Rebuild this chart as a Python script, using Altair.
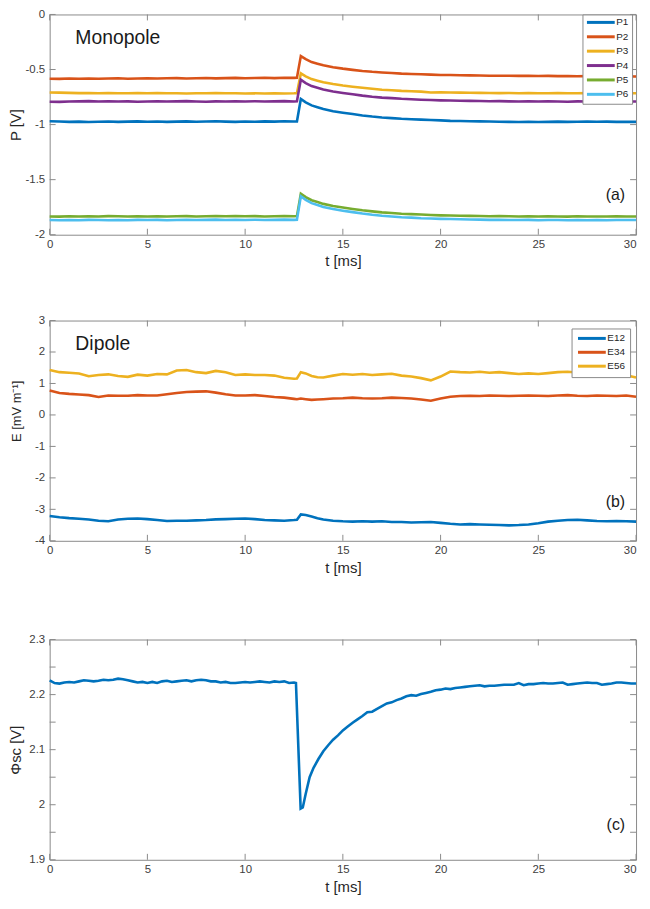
import altair as alt
import pandas as pd

# ---------------- data ----------------
T = [0, 0.5, 1, 1.5, 2, 2.5, 3, 3.5, 4, 4.5,
     5, 5.5, 6, 6.5, 7, 7.5, 8, 8.5, 9, 9.5,
     10, 10.5, 11, 11.5, 12, 12.5, 12.65, 12.85, 13.1, 13.4,
     13.7, 14, 14.5, 15, 15.5, 16, 16.5, 17, 17.5, 18,
     18.5, 19, 19.5, 20, 20.5, 21, 21.5, 22, 22.5, 23,
     23.5, 24, 24.5, 25, 25.5, 26, 26.5, 27, 27.5, 28,
     28.5, 29, 29.5, 30]

P1 = [-0.970, -0.972, -0.975, -0.973, -0.976, -0.974, -0.972, -0.975, -0.973, -0.971,
      -0.974, -0.972, -0.975, -0.973, -0.971, -0.974, -0.972, -0.970, -0.973, -0.975,
      -0.972, -0.974, -0.971, -0.973, -0.970, -0.972, -0.971, -0.767, -0.798, -0.826,
      -0.843, -0.859, -0.878, -0.892, -0.904, -0.917, -0.927, -0.935, -0.941, -0.947,
      -0.951, -0.955, -0.959, -0.962, -0.966, -0.968, -0.969, -0.971, -0.972, -0.974,
      -0.975, -0.976, -0.974, -0.976, -0.975, -0.973, -0.975, -0.974, -0.972, -0.974,
      -0.973, -0.975, -0.974, -0.975]
P2 = [-0.584, -0.585, -0.582, -0.584, -0.581, -0.583, -0.582, -0.580, -0.583, -0.581,
      -0.579, -0.582, -0.580, -0.578, -0.581, -0.579, -0.577, -0.580, -0.578, -0.576,
      -0.579, -0.577, -0.575, -0.578, -0.574, -0.576, -0.574, -0.378, -0.406, -0.432,
      -0.447, -0.462, -0.479, -0.492, -0.503, -0.513, -0.521, -0.527, -0.532, -0.537,
      -0.540, -0.543, -0.546, -0.549, -0.550, -0.552, -0.553, -0.555, -0.556, -0.557,
      -0.556, -0.558, -0.557, -0.559, -0.558, -0.560, -0.559, -0.561, -0.560, -0.562,
      -0.561, -0.563, -0.562, -0.563]
P3 = [-0.708, -0.710, -0.712, -0.714, -0.713, -0.715, -0.714, -0.716, -0.715, -0.713,
      -0.715, -0.714, -0.716, -0.715, -0.717, -0.715, -0.716, -0.714, -0.716, -0.715,
      -0.717, -0.716, -0.718, -0.716, -0.717, -0.716, -0.715, -0.535, -0.562, -0.587,
      -0.602, -0.616, -0.632, -0.645, -0.656, -0.666, -0.675, -0.683, -0.688, -0.694,
      -0.697, -0.701, -0.708, -0.706, -0.708, -0.710, -0.711, -0.712, -0.713, -0.714,
      -0.713, -0.715, -0.714, -0.716, -0.715, -0.714, -0.716, -0.715, -0.714, -0.716,
      -0.715, -0.716, -0.715, -0.716]
P4 = [-0.792, -0.794, -0.791, -0.789, -0.787, -0.790, -0.788, -0.791, -0.789, -0.792,
      -0.790, -0.788, -0.791, -0.789, -0.787, -0.790, -0.792, -0.789, -0.791, -0.788,
      -0.790, -0.788, -0.791, -0.789, -0.787, -0.790, -0.788, -0.593, -0.623, -0.650,
      -0.666, -0.682, -0.699, -0.713, -0.725, -0.737, -0.747, -0.755, -0.760, -0.766,
      -0.770, -0.774, -0.777, -0.780, -0.782, -0.784, -0.785, -0.786, -0.788, -0.787,
      -0.789, -0.790, -0.788, -0.791, -0.789, -0.790, -0.792, -0.789, -0.791, -0.790,
      -0.792, -0.790, -0.791, -0.790]
P5 = [-1.834, -1.836, -1.833, -1.835, -1.832, -1.834, -1.831, -1.833, -1.835, -1.832,
      -1.834, -1.832, -1.835, -1.833, -1.831, -1.834, -1.832, -1.830, -1.833, -1.831,
      -1.833, -1.831, -1.834, -1.832, -1.830, -1.832, -1.831, -1.627, -1.658, -1.687,
      -1.703, -1.720, -1.739, -1.753, -1.766, -1.778, -1.788, -1.797, -1.803, -1.809,
      -1.813, -1.817, -1.821, -1.824, -1.826, -1.828, -1.829, -1.830, -1.832, -1.831,
      -1.833, -1.834, -1.832, -1.835, -1.833, -1.834, -1.836, -1.833, -1.835, -1.834,
      -1.835, -1.833, -1.834, -1.834]
P6 = [-1.867, -1.869, -1.866, -1.868, -1.865, -1.867, -1.869, -1.866, -1.868, -1.865,
      -1.867, -1.865, -1.868, -1.866, -1.864, -1.867, -1.865, -1.863, -1.866, -1.864,
      -1.866, -1.864, -1.867, -1.865, -1.863, -1.865, -1.864, -1.650, -1.683, -1.713,
      -1.730, -1.748, -1.767, -1.782, -1.795, -1.808, -1.819, -1.828, -1.834, -1.841,
      -1.845, -1.850, -1.853, -1.856, -1.858, -1.860, -1.862, -1.863, -1.865, -1.864,
      -1.866, -1.867, -1.865, -1.868, -1.866, -1.867, -1.869, -1.866, -1.868, -1.867,
      -1.868, -1.866, -1.867, -1.867]

E12 = [-3.21, -3.25, -3.28, -3.30, -3.32, -3.36, -3.38, -3.32, -3.30, -3.29,
       -3.31, -3.34, -3.37, -3.36, -3.36, -3.35, -3.34, -3.32, -3.31, -3.30,
       -3.29, -3.31, -3.34, -3.35, -3.36, -3.34, -3.33, -3.16, -3.18, -3.23,
       -3.28, -3.32, -3.36, -3.38, -3.39, -3.38, -3.39, -3.38, -3.40, -3.40,
       -3.42, -3.41, -3.40, -3.43, -3.46, -3.48, -3.47, -3.48, -3.49, -3.50,
       -3.51, -3.50, -3.48, -3.44, -3.39, -3.36, -3.34, -3.33, -3.35, -3.37,
       -3.38, -3.37, -3.38, -3.39]
E34 = [0.78, 0.70, 0.67, 0.65, 0.63, 0.57, 0.62, 0.61, 0.61, 0.63,
       0.62, 0.62, 0.66, 0.70, 0.73, 0.74, 0.75, 0.71, 0.66, 0.62,
       0.62, 0.63, 0.60, 0.57, 0.55, 0.51, 0.50, 0.52, 0.50, 0.48,
       0.49, 0.50, 0.52, 0.53, 0.55, 0.53, 0.52, 0.53, 0.55, 0.54,
       0.52, 0.49, 0.45, 0.52, 0.58, 0.60, 0.61, 0.60, 0.62, 0.61,
       0.60, 0.61, 0.62, 0.61, 0.60, 0.62, 0.63, 0.61, 0.60, 0.62,
       0.61, 0.60, 0.62, 0.58]
E56 = [1.43, 1.36, 1.34, 1.32, 1.23, 1.27, 1.29, 1.24, 1.21, 1.28,
       1.25, 1.30, 1.29, 1.41, 1.43, 1.36, 1.33, 1.40, 1.36, 1.27,
       1.29, 1.27, 1.27, 1.25, 1.18, 1.15, 1.16, 1.36, 1.32, 1.24,
       1.20, 1.19, 1.25, 1.30, 1.28, 1.30, 1.27, 1.29, 1.31, 1.25,
       1.22, 1.17, 1.10, 1.22, 1.38, 1.36, 1.35, 1.37, 1.34, 1.36,
       1.33, 1.30, 1.32, 1.30, 1.33, 1.36, 1.37, 1.35, 1.33, 1.31,
       1.29, 1.28, 1.26, 1.19]

TC = [0, 0.25, 0.5, 0.75, 1, 1.25, 1.5, 1.75, 2, 2.25,
      2.5, 2.75, 3, 3.25, 3.5, 3.75, 4, 4.25, 4.5, 4.75,
      5, 5.25, 5.5, 5.75, 6, 6.25, 6.5, 6.75, 7, 7.25,
      7.5, 7.75, 8, 8.25, 8.5, 8.75, 9, 9.25, 9.5, 9.75,
      10, 10.25, 10.5, 10.75, 11, 11.25, 11.5, 11.75, 12, 12.25,
      12.5,
      12.6, 12.84, 12.95, 13.1, 13.3, 13.5, 13.75,
      14, 14.25, 14.5, 14.75, 15, 15.25, 15.5, 15.75, 16, 16.25,
      16.5, 16.75, 17, 17.25, 17.5, 17.75, 18, 18.25, 18.5, 18.75,
      19, 19.25, 19.5, 19.75, 20, 20.25, 20.5, 20.75, 21, 21.25,
      21.5, 21.75, 22, 22.25, 22.5, 22.75, 23, 23.25, 23.5, 23.75,
      24, 24.25, 24.5, 24.75, 25, 25.25, 25.5, 25.75, 26, 26.25,
      26.5, 26.75, 27, 27.25, 27.5, 27.75, 28, 28.25, 28.5, 28.75,
      29, 29.25, 29.5, 29.75, 30]
PHI = [2.226, 2.221, 2.220, 2.222, 2.223, 2.222, 2.224, 2.226, 2.225, 2.224,
       2.225, 2.227, 2.226, 2.227, 2.229, 2.228, 2.226, 2.224, 2.222, 2.223,
       2.221, 2.223, 2.221, 2.224, 2.225, 2.223, 2.224, 2.225, 2.226, 2.224,
       2.226, 2.227, 2.226, 2.224, 2.224, 2.222, 2.223, 2.221, 2.221, 2.222,
       2.223, 2.222, 2.223, 2.224, 2.223, 2.222, 2.224, 2.223, 2.224, 2.221,
       2.222,
       2.221, 1.993, 1.995, 2.020, 2.050, 2.067, 2.083,
       2.097, 2.108, 2.118, 2.126, 2.135, 2.142, 2.149, 2.155, 2.161, 2.168,
       2.169, 2.174, 2.179, 2.184, 2.186, 2.190, 2.193, 2.197, 2.199, 2.198,
       2.201, 2.203, 2.205, 2.208, 2.209, 2.211, 2.210, 2.212, 2.213, 2.214,
       2.215, 2.216, 2.217, 2.215, 2.216, 2.216, 2.217, 2.218, 2.218, 2.218,
       2.221, 2.217, 2.219, 2.219, 2.220, 2.221, 2.220, 2.220, 2.221, 2.222,
       2.218, 2.219, 2.220, 2.221, 2.222, 2.221, 2.221, 2.218, 2.219, 2.220,
       2.222, 2.222, 2.221, 2.220, 2.220]

P_NAMES = ["P1", "P2", "P3", "P4", "P5", "P6"]
E_NAMES = ["E12", "E34", "E56"]
P_COLORS = ["#0072BD", "#D95319", "#EDB120", "#7E2F8E", "#77AC30", "#4DBEEE"]
E_COLORS = ["#0072BD", "#D95319", "#EDB120"]
X_TICKS = [0, 5, 10, 15, 20, 25, 30]
PA_TICKS = [-2, -1.5, -1, -0.5, 0]
EB_TICKS = [-4, -3, -2, -1, 0, 1, 2, 3]
PC_TICKS = [1.9, 1.95, 2.0, 2.05, 2.1, 2.15, 2.2, 2.25, 2.3]

for s in [P1, P2, P3, P4, P5, P6, E12, E34, E56]:
    assert len(s) == len(T), len(s)
assert len(PHI) == len(TC), (len(PHI), len(TC))


def long_df(names, series):
    rows = []
    for n, s in zip(names, series):
        for t, v in zip(T, s):
            rows.append({"t": t, "value": v, "series": n})
    return pd.DataFrame(rows)


dfa = long_df(P_NAMES, [P1, P2, P3, P4, P5, P6])
dfb = long_df(E_NAMES, [E12, E34, E56])
dfc = pd.DataFrame({"t": TC, "value": PHI})

ann_a = pd.DataFrame({"t": [1.315], "value": [-0.264], "label": ["Monopole"]})
tag_a = pd.DataFrame({"t": [29.44], "value": [-1.636], "label": ["(a)"]})
ann_b = pd.DataFrame({"t": [1.315], "value": [2.06], "label": ["Dipole"]})
tag_b = pd.DataFrame({"t": [29.44], "value": [-2.76], "label": ["(b)"]})
tag_c = pd.DataFrame({"t": [29.44], "value": [1.9625], "label": ["(c)"]})

# ---------------- style ----------------
W = 591
HA, HB, HC = 222, 222, 222
AX = "#8a8a8a"
LAB = "#404040"
TXT = "#262626"
FONT = "Liberation Sans"
TICK = 6
LBL = "replace(format(datum.value, '~g'), '\u2212', '-')"
LBL_C = "(round(datum.value*100) % 10 == 0) ? replace(format(datum.value, '~g'), '\u2212', '-') : ''"
X_ALIGN = {"condition": {"test": "datum.value >= 30", "value": "right"}, "value": "center"}


class Panel:
    def __init__(self, h, dom, ticks, title, expr=LBL, title_y=None, title_size=15):
        self.h, self.dom, self.ticks, self.title = h, dom, ticks, title
        self.expr, self.title_y, self.title_size = expr, title_y, title_size

    def x(self):
        return alt.X("t:Q", scale=alt.Scale(domain=[0, 30], nice=False, zero=False),
                     axis=alt.Axis(values=X_TICKS, title="t [ms]", grid=False,
                                   labelFlush=False, labelAlign=X_ALIGN,
                                   labelExpr=LBL, labelPadding=4, titlePadding=4))

    def y(self):
        kw = {}
        if self.title_y is not None:
            kw["titleY"] = self.title_y
        return alt.Y("value:Q", scale=alt.Scale(domain=self.dom, nice=False, zero=False),
                     axis=alt.Axis(values=self.ticks, title=self.title, grid=False,
                                   labelExpr=self.expr, labelPadding=5, labelFlush=False,
                                   titleFontSize=self.title_size,
                                   minExtent=24, maxExtent=24, titlePadding=2, **kw))

    def tick_layers(self):
        xd = alt.Chart(pd.DataFrame({"t": X_TICKS})).mark_rule(color=AX, strokeWidth=1)
        yd = alt.Chart(pd.DataFrame({"value": self.ticks})).mark_rule(color=AX, strokeWidth=1)
        return [
            xd.encode(x=self.x(), y=alt.value(0), y2=alt.value(TICK)),
            xd.encode(x=self.x(), y=alt.value(self.h - TICK), y2=alt.value(self.h)),
            yd.encode(y=self.y(), x=alt.value(0), x2=alt.value(TICK)),
            yd.encode(y=self.y(), x=alt.value(W - TICK), x2=alt.value(W)),
        ]

    def text(self, df, size, align, baseline):
        return alt.Chart(df).mark_text(align=align, baseline=baseline, fontSize=size,
                                       color="#1a1a1a", font=FONT).encode(
            x=self.x(), y=self.y(), text="label:N")


def legend(x, y, pad, rowpad, off):
    return alt.Legend(title=None, orient="none", legendX=x, legendY=y,
                      symbolType="M-1,0H7", symbolSize=49, symbolStrokeWidth=3,
                      labelFontSize=10, labelColor=TXT, labelOffset=off,
                      rowPadding=rowpad, padding=pad, strokeColor=AX,
                      fillColor="white", cornerRadius=0)


# Panel (a)
pa = Panel(HA, [-2, 0], PA_TICKS, "P [V]")
la = alt.Chart(dfa).mark_line(strokeWidth=2.6).encode(
    x=pa.x(), y=pa.y(),
    color=alt.Color("series:N", scale=alt.Scale(domain=P_NAMES, range=P_COLORS),
                    legend=legend(537, 0, 3, 2.5, 21)))
panel_a = alt.layer(
    *pa.tick_layers(), la,
    pa.text(ann_a, 19.5, "left", "alphabetic"),
    pa.text(tag_a, 16, "right", "middle"),
).properties(width=W, height=HA)

# Panel (b)
E_TITLE = "E [mV m\u207b\u00b9]"
pb = Panel(HB, [-4, 3], EB_TICKS, E_TITLE, title_y=91, title_size=13)
lb = alt.Chart(dfb).mark_line(strokeWidth=2.6).encode(
    x=pb.x(), y=pb.y(),
    color=alt.Color("series:N", scale=alt.Scale(domain=E_NAMES, range=E_COLORS),
                    legend=legend(526, 8, 5, 2, 21)))
panel_b = alt.layer(
    *pb.tick_layers(), lb,
    pb.text(ann_b, 19.5, "left", "alphabetic"),
    pb.text(tag_b, 16, "right", "middle"),
).properties(width=W, height=HB)

# Panel (c)
pc = Panel(HC, [1.9, 2.3], PC_TICKS, "\u03a6sc [V]", expr=LBL_C)
lc = alt.Chart(dfc).mark_line(strokeWidth=2.6, color="#0072BD").encode(x=pc.x(), y=pc.y())
panel_c = alt.layer(
    *pc.tick_layers(), lc,
    pc.text(tag_c, 16, "right", "middle"),
).properties(width=W, height=HC,
             title=alt.TitleParams(" ", fontSize=10, offset=3))

chart = alt.vconcat(panel_a, panel_b, panel_c, spacing=44.5).resolve_scale(
    color="independent"
).properties(
    padding={"left": 0, "top": -4, "right": 0, "bottom": 0}
).configure(font=FONT).configure_view(
    stroke=AX, strokeWidth=1
).configure_axis(
    ticks=False, tickSize=0, domain=False, grid=False,
    labelFont=FONT, labelFontSize=11.5, labelColor=LAB,
    titleFont=FONT, titleFontSize=15, titleFontWeight="normal", titleColor=TXT,
).configure_legend(labelFont=FONT)

chart.save("out.html", embed_options={"renderer": "svg", "actions": False})
